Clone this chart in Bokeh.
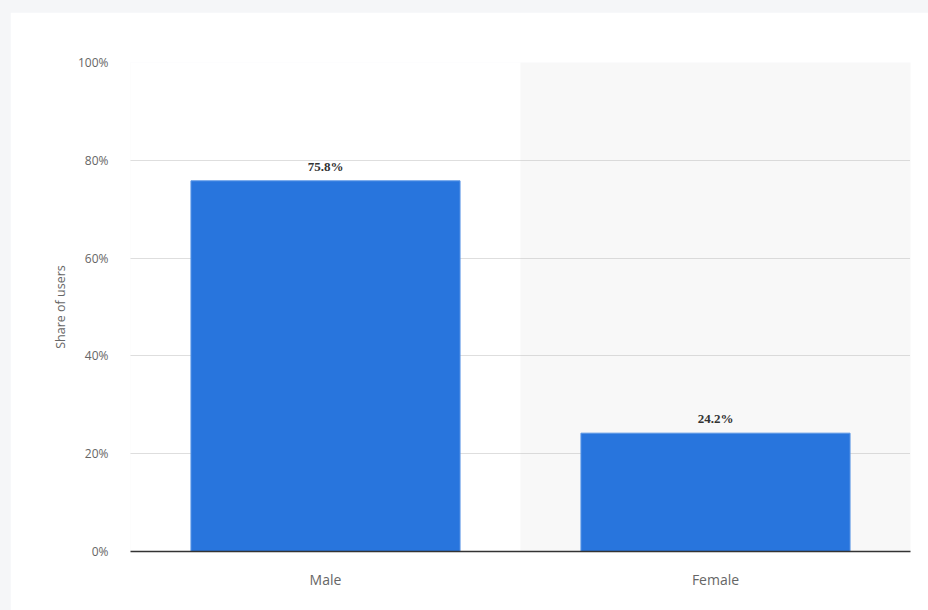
from bokeh.plotting import figure
from bokeh.models import ColumnDataSource, FactorRange, Range1d, FixedTicker, PrintfTickFormatter, LabelSet
from bokeh.embed import file_html
from bokeh.resources import INLINE

categories = ["Male", "Female"]
shares = [75.8, 24.2]
labels = ["75.8%", "24.2%"]
y_ticks = [0, 20, 40, 60, 80, 100]

FONT = "Open Sans"
BOLD_FONT = "Noto Sans"

p = figure(
    x_range=FactorRange(factors=categories, range_padding=0),
    y_range=Range1d(0, 100),
    width=918, height=598,
    output_backend="svg", toolbar_location=None,
    min_border_left=120, min_border_right=18, min_border_top=50, min_border_bottom=59,
)
p.styles = {"margin-left": "10px", "margin-top": "12px", "border-radius": "8px"}
p.background_fill_color = "white"
p.border_fill_color = "white"
p.outline_line_color = None

# shaded band behind second category
band = p.vbar(x=["Female"], top=[100], bottom=[0], width=1.0,
              fill_color="#f8f8f8", line_color=None)
band.level = "image"

src = ColumnDataSource(dict(cat=categories, val=shares, lab=labels))
p.vbar(x="cat", top="val", width=0.69, source=src,
       fill_color="#2875dd", line_color="#5a96e6", line_width=1)

p.add_layout(LabelSet(x="cat", y="val", text="lab", source=src,
                      text_align="center", text_baseline="bottom", y_offset=7,
                      text_font=BOLD_FONT, text_font_size="13px", text_font_style="bold",
                      text_color="#333333"))

# grid
p.xgrid.grid_line_color = None
p.ygrid.ticker = FixedTicker(ticks=y_ticks)
p.ygrid.grid_line_color = "#bdbdbd"
p.ygrid.grid_line_dash = "1 1"
p.ygrid.grid_line_width = 1

# y axis
p.yaxis.ticker = FixedTicker(ticks=y_ticks)
p.yaxis.formatter = PrintfTickFormatter(format="%d%%")
p.yaxis.axis_line_color = None
p.yaxis.major_tick_line_color = None
p.yaxis.minor_tick_line_color = None
p.yaxis.major_label_standoff = 16
p.yaxis.major_label_text_font = FONT
p.yaxis.major_label_text_font_size = "12px"
p.yaxis.major_label_text_color = "#666666"
p.yaxis.axis_label = "Share of users"
p.yaxis.axis_label_text_font = FONT
p.yaxis.axis_label_text_font_size = "12.5px"
p.yaxis.axis_label_text_font_style = "normal"
p.yaxis.axis_label_text_color = "#666666"
p.yaxis.axis_label_standoff = 6

# x axis
p.xaxis.axis_line_color = "#333333"
p.xaxis.axis_line_width = 1.5
p.xaxis.major_tick_line_color = None
p.xaxis.minor_tick_line_color = None
p.xaxis.major_label_standoff = 12
p.xaxis.major_label_text_font = FONT
p.xaxis.major_label_text_font_size = "14px"
p.xaxis.major_label_text_color = "#666666"

html = file_html(p, INLINE)
html = html.replace(
    "</head>",
    "<style>html, body { background-color: #f5f6f8 !important; overflow: hidden !important; }</style></head>",
    1,
)
open("out.html", "w").write(html)
